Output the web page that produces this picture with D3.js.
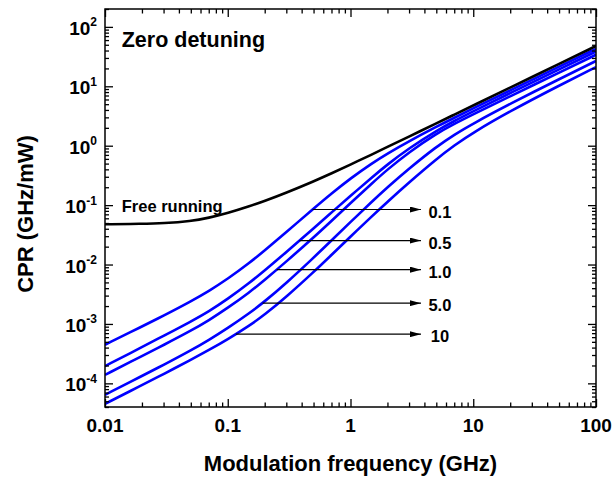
<!DOCTYPE html>
<html><head><meta charset="utf-8">
<script src="https://cdn.jsdelivr.net/npm/d3@7"></script>
<style>
body{margin:0;background:#fff}
text{font-family:"Liberation Sans",Arial,Helvetica,sans-serif;font-weight:bold;fill:#000}
</style></head><body>
<svg id="chart" width="615" height="480"></svg>
<script>
// ---- data ----
const freq = [0.01,0.02,0.03,0.05,0.07,0.1,0.15,0.2,0.3,0.5,0.7,1,1.5,2,3,5,7,10,20,50,100];
const freeRunning = [0.0476,0.0484,0.0495,0.0537,0.0610,0.0733,0.0953,0.1175,0.1618,0.251,0.342,0.482,0.716,0.953,1.429,2.38,3.33,4.76,9.53,23.8,47.6];
const ratio01 = [4.47e-4,9.06e-4,1.380e-3,2.399e-3,3.565e-3,5.73e-3,1.062e-2,1.722e-2,3.516e-2,8.73e-2,0.1567,0.2812,0.5082,0.738,1.191,2.080,2.951,4.246,8.551,21.38,42.76];
const ratio05 = [1.95e-4,4.07e-4,6.31e-4,1.096e-3,1.62e-3,2.63e-3,4.90e-3,7.94e-3,1.62e-2,4.07e-2,7.50e-2,0.143,0.295,0.484,0.908,1.782,2.606,3.793,7.69,19.23,38.46];
const ratio10 = [1.39e-4,2.88e-4,4.42e-4,7.67e-4,1.148e-3,1.86e-3,3.39e-3,5.50e-3,1.122e-2,2.85e-2,5.43e-2,0.108,0.234,0.398,0.780,1.596,2.328,3.373,6.792,16.98,33.96];
const ratio50 = [6.40e-5,1.334e-4,2.042e-4,3.581e-4,5.358e-4,8.53e-4,1.517e-3,2.388e-3,4.875e-3,1.300e-2,2.547e-2,5.200e-2,0.1151,0.1991,0.4130,0.9594,1.535,2.371,5.082,13.18,26.73];
const ratio100 = [4.52e-5,9.35e-5,1.432e-4,2.489e-4,3.622e-4,5.521e-4,9.35e-4,1.432e-3,2.851e-3,7.447e-3,1.449e-2,2.958e-2,6.546e-2,0.1138,0.2415,0.5943,1.012,1.667,3.828,10.30,21.04];
const injectionSeries = [ratio01, ratio05, ratio10, ratio50, ratio100];
const injectionLabels = ["0.1","0.5","1.0","5.0","10"];
const arrowLevels = [0.0843, 0.0253, 0.0082, 0.00224, 0.000673];
const arrowEndFreq = 3.75;
const labelFreq = 5.35;
const xTickValues = [0.01,0.1,1,10,100];
const xTickLabels = ["0.01","0.1","1","10","100"];
const yTickValues = [1e-4,1e-3,1e-2,1e-1,1,10,100];
const yTickExponents = ["-4","-3","-2","-1","0","1","2"];
const titleText = "Zero detuning";
const freeText = "Free running";

// ---- layout ----
const L = 105, R = 596, T = 9, B = 407;
const x = d3.scaleLog().domain([0.01,100]).range([L,R]);
const y = d3.scaleLog().domain([4e-5,200]).range([B,T]);

const svg = d3.select("#chart");
const defs = svg.append("defs");
defs.append("clipPath").attr("id","clip").append("rect")
  .attr("x",L).attr("y",T).attr("width",R-L).attr("height",B-T);
defs.append("marker").attr("id","arrow").attr("viewBox","0 0 11 6")
  .attr("refX",11).attr("refY",3).attr("markerWidth",11).attr("markerHeight",6)
  .attr("markerUnits","userSpaceOnUse").attr("orient","auto")
  .append("path").attr("d","M0,0L11,3L0,6Z").attr("fill","#000");

const line = d3.line().x((d,i)=>x(freq[i])).y(d=>y(d)).curve(d3.curveBasis);

const plot = svg.append("g").attr("clip-path","url(#clip)");
injectionSeries.forEach(s=>{
  plot.append("path").attr("d",line(s)).attr("fill","none")
    .attr("stroke","#0000ff").attr("stroke-width",2.6);
});
plot.append("path").attr("d",line(freeRunning)).attr("fill","none")
  .attr("stroke","#000").attr("stroke-width",2.6);

// arrows: start where each curve crosses its level
function crossing(series, level){
  const L0 = Math.log10(level);
  for(let i=0;i<series.length-1;i++){
    const a = Math.log10(series[i]), b = Math.log10(series[i+1]);
    if((a-L0)*(b-L0)<=0){
      const t=(L0-a)/(b-a);
      return Math.pow(10, Math.log10(freq[i]) + t*(Math.log10(freq[i+1])-Math.log10(freq[i])));
    }
  }
  return freq[0];
}
injectionSeries.forEach((s,i)=>{
  const f0 = crossing(s, arrowLevels[i]);
  svg.append("line").attr("x1",x(f0)).attr("y1",y(arrowLevels[i]))
    .attr("x2",x(arrowEndFreq)).attr("y2",y(arrowLevels[i]))
    .attr("stroke","#000").attr("stroke-width",1.1).attr("marker-end","url(#arrow)");
  svg.append("text").attr("x",x(labelFreq)).attr("y",y(arrowLevels[i])+8)
    .attr("text-anchor","middle").style("font-size","16.5px").text(injectionLabels[i]);
});

// frame
svg.append("rect").attr("x",L).attr("y",T).attr("width",R-L).attr("height",B-T)
  .attr("fill","none").attr("stroke","#000").attr("stroke-width",1.5);

// ticks
const xMinor=[], yMinor=[];
for(let k=-2;k<=1;k++) for(let m=2;m<=9;m++) xMinor.push(m*Math.pow(10,k));
for(let k=-5;k<=2;k++) for(let m=2;m<=9;m++){const v=m*Math.pow(10,k); if(v>=4e-5&&v<=200) yMinor.push(v);}
function styleAxis(sel){
  sel.select(".domain").remove();
  sel.selectAll(".tick line").attr("stroke","#000").attr("stroke-width",1.3);
}
svg.append("g").attr("transform",`translate(0,${B})`)
  .call(d3.axisBottom(x).tickValues(xTickValues).tickSize(-8).tickFormat("")).call(styleAxis);
svg.append("g").attr("transform",`translate(0,${B})`)
  .call(d3.axisBottom(x).tickValues(xMinor).tickSize(-4.5).tickFormat("")).call(styleAxis);
svg.append("g").attr("transform",`translate(0,${T})`)
  .call(d3.axisTop(x).tickValues(xTickValues).tickSize(-8).tickFormat("")).call(styleAxis);
svg.append("g").attr("transform",`translate(0,${T})`)
  .call(d3.axisTop(x).tickValues(xMinor).tickSize(-4.5).tickFormat("")).call(styleAxis);
svg.append("g").attr("transform",`translate(${L},0)`)
  .call(d3.axisLeft(y).tickValues(yTickValues).tickSize(-8).tickFormat("")).call(styleAxis);
svg.append("g").attr("transform",`translate(${L},0)`)
  .call(d3.axisLeft(y).tickValues(yMinor).tickSize(-4).tickFormat("")).call(styleAxis);
svg.append("g").attr("transform",`translate(${R},0)`)
  .call(d3.axisRight(y).tickValues(yTickValues).tickSize(-8).tickFormat("")).call(styleAxis);
svg.append("g").attr("transform",`translate(${R},0)`)
  .call(d3.axisRight(y).tickValues(yMinor).tickSize(-4).tickFormat("")).call(styleAxis);

// tick labels
xTickValues.forEach((v,i)=>{
  svg.append("text").attr("x",x(v)).attr("y",B+25).attr("text-anchor","middle")
    .style("font-size","19px").text(xTickLabels[i]);
});
yTickValues.forEach((v,i)=>{
  const t = svg.append("text").attr("x",L-8).attr("y",y(v)+8).attr("text-anchor","end")
    .style("font-size","19px");
  t.append("tspan").text("10");
  t.append("tspan").attr("dy",-8.5).style("font-size","12px").text(yTickExponents[i]);
});

// axis titles
svg.append("text").attr("x",(L+R)/2).attr("y",471).attr("text-anchor","middle")
  .style("font-size","22px").text("Modulation frequency (GHz)");
svg.append("text").attr("transform",`translate(33,${(T+B)/2+6}) rotate(-90)`)
  .attr("text-anchor","middle").style("font-size","22px").text("CPR (GHz/mW)");

// annotations
svg.append("text").attr("x",x(0.01368)).attr("y",y(46.4))
  .style("font-size","21.5px").text(titleText);
svg.append("text").attr("x",x(0.01368)).attr("y",y(0.0774))
  .style("font-size","16.5px").text(freeText);
</script>
</body></html>
